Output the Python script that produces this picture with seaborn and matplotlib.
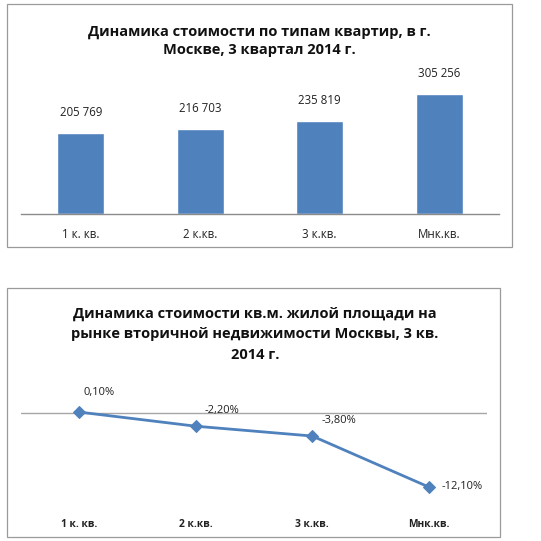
import matplotlib
matplotlib.use("Agg")
import matplotlib.pyplot as plt
import seaborn as sns
import pandas as pd
from matplotlib.patches import Rectangle

sns.set_theme(style="white")
plt.rcParams['font.family'] = ['Open Sans', 'DejaVu Sans']

# ---- data ----
categories = ["1 к. кв.", "2 к.кв.", "3 к.кв.", "Мнк.кв."]
prices = [205769, 216703, 235819, 305256]
price_labels = ["205 769", "216 703", "235 819", "305 256"]
changes = [0.10, -2.20, -3.80, -12.10]
change_labels = ["0,10%", "-2,20%", "-3,80%", "-12,10%"]
title_top = "Динамика стоимости по типам квартир, в г.\nМоскве, 3 квартал 2014 г."
title_bottom = "Динамика стоимости кв.м. жилой площади на\nрынке вторичной недвижимости Москвы, 3 кв.\n2014 г."

BLUE = "#4F81BD"
W = H = 541
fig = plt.figure(figsize=(W / 100, H / 100), dpi=100)
fig.patch.set_facecolor("white")

def fx(px):
    return px / W

def fy(py):
    return 1 - py / H

# chart borders
fig.patches.append(Rectangle((fx(7), fy(247)), fx(512) - fx(7), fy(4) - fy(247),
                             transform=fig.transFigure, fill=False, ec="#9a9a9a", lw=0.9))
fig.patches.append(Rectangle((fx(7), fy(537)), fx(500) - fx(7), fy(288) - fy(537),
                             transform=fig.transFigure, fill=False, ec="#9a9a9a", lw=0.9))

# ---- top bar chart ----
ymax_top = 350000
px_per_unit = 120 / 305256
ax_h = ymax_top * px_per_unit
ax1 = fig.add_axes([fx(21), fy(214), fx(499) - fx(21), ax_h / H])
df1 = pd.DataFrame({"cat": categories, "val": prices})
sns.barplot(data=df1, x="cat", y="val", color=BLUE, saturation=1, width=0.39, ax=ax1)
ax1.set_xlim(-0.5, 3.5)
ax1.set_ylim(0, ymax_top)
for s in ["top", "right", "left"]:
    ax1.spines[s].set_visible(False)
ax1.spines["bottom"].set_color("#8c8c8c")
ax1.spines["bottom"].set_linewidth(1.0)
ax1.set_yticks([])
ax1.set_xlabel("")
ax1.set_ylabel("")
ax1.tick_params(axis="x", length=0, pad=10, labelsize=8.3, colors="#222222")
for i, (v, lab) in enumerate(zip(prices, price_labels)):
    ax1.annotate(lab, (i, v), xytext=(0, 10), textcoords="offset points",
                 ha="center", va="bottom", fontsize=8.3, color="#222222")
fig.text(fx(259), fy(41), title_top, ha="center", va="center", fontsize=10.5,
         fontweight="bold", color="#111111", linespacing=1.4)

# ---- bottom line chart ----
ppp = 6.14  # pixels per percent
zero_px = 412.7
ylo, yhi = -14.0, 2.0
top_px = zero_px - yhi * ppp
bot_px = zero_px - ylo * ppp
ax2 = fig.add_axes([fx(21), fy(bot_px), fx(487) - fx(21), (bot_px - top_px) / H])
df2 = pd.DataFrame({"cat": categories, "val": changes})
sns.lineplot(data=df2, x="cat", y="val", color=BLUE, marker="D", markersize=6.5,
             markeredgecolor=BLUE, linewidth=2.0, ax=ax2, sort=False)
ax2.axhline(0, color="#a6a6a6", lw=1.0, zorder=0)
ax2.set_xlim(-0.5, 3.5)
ax2.set_ylim(ylo, yhi)
for s in ax2.spines.values():
    s.set_visible(False)
ax2.set_yticks([])
ax2.set_xlabel("")
ax2.set_ylabel("")
ax2.tick_params(axis="x", length=0, pad=15, labelsize=7.4, colors="#222222")
for t in ax2.get_xticklabels():
    t.set_fontweight("bold")
offsets = [(14, 14), (19, 11), (19, 11), (24, 0)]
for i, (v, lab) in enumerate(zip(changes, change_labels)):
    ax2.annotate(lab, (i, v), xytext=offsets[i], textcoords="offset points",
                 ha="center", va="center", fontsize=8.0, color="#222222")
fig.text(fx(255), fy(334), title_bottom, ha="center", va="center", fontsize=10.5,
         fontweight="bold", color="#111111", linespacing=1.6)

fig.savefig("out.png", dpi=100, facecolor="white")
